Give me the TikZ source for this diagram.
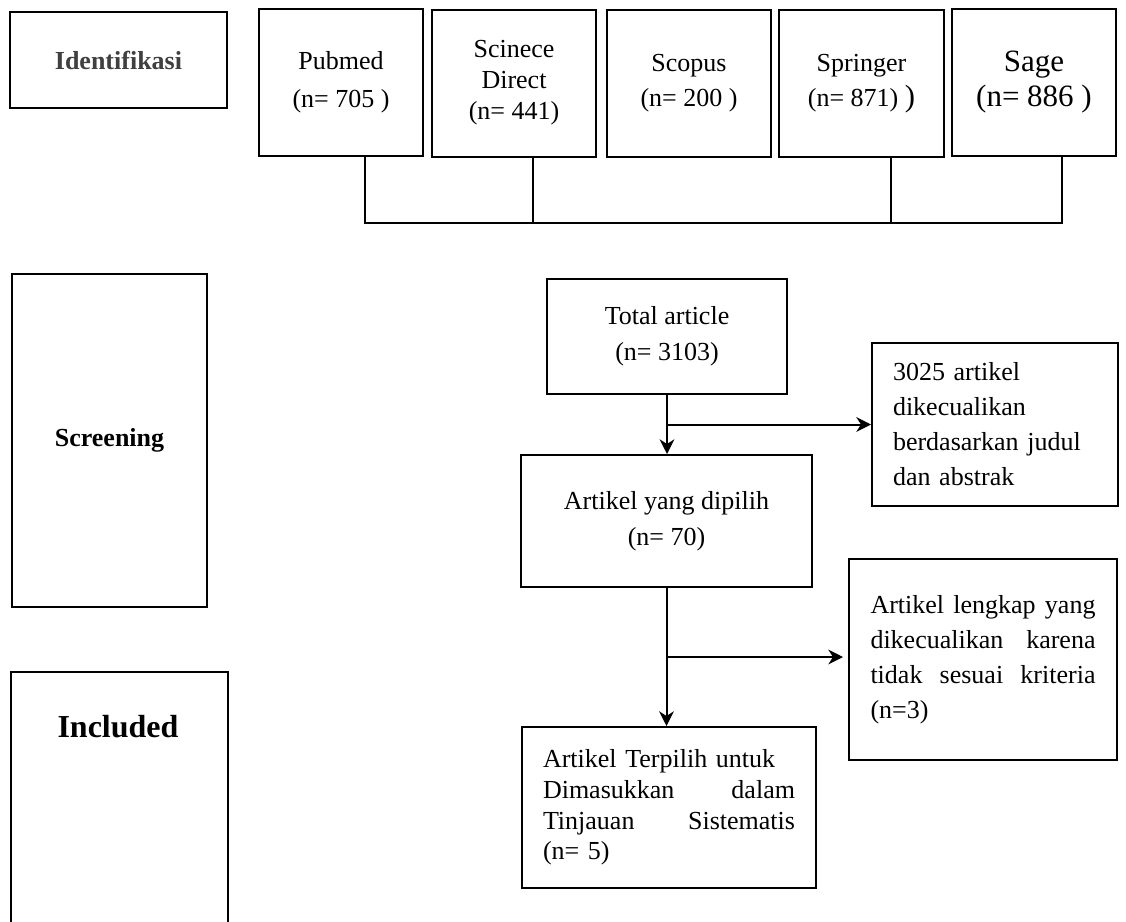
\documentclass[tikz,border=0pt]{standalone}
\usepackage{fontspec}
\setmainfont{Liberation Serif}
\usepackage{xcolor}
\usetikzlibrary{calc,arrows.meta}
\definecolor{idgray}{RGB}{64,64,64}

\begin{document}
\begin{tikzpicture}[x=0.75pt,y=0.75pt,yscale=-1,xscale=1,
    box/.style={draw,line width=1.5pt,align=center,inner sep=0pt},
    sidebox/.style={box,align=left,inner xsep=15.75pt},
    dbbox/.style={box,minimum width=123.5pt,minimum height=110.25pt},
    phase/.style={box,font=\bfseries\fontsize{19.5}{24}\selectfont},
    nfont/.style={font=\fontsize{19.5}{#1}\selectfont},
    link/.style={line width=1.1pt},
    flow/.style={line width=1.5pt,-{Stealth[length=11pt,width=11pt,inset=3.5pt]}}]
      \useasboundingbox (0,0) rectangle (1126,921);
      \clip (0,0) rectangle (1126,921);

      %Shape: Rectangle [Identifikasi]
      \node [phase,text=idgray,minimum width=162.75pt,minimum height=72pt] (ident) at (118.5,60) {Identifikasi};
      %Shape: Rectangle [databases]
      \node [dbbox,nfont=28.5] (pubmed) at (341,82) {Pubmed\\(n= 705 )};
      \node [dbbox,nfont=23.25] (scidir) at (514,83) {Scinece\\Direct\\(n= 441)};
      \node [dbbox,nfont=26.25] (scopus) at (689,83) {Scopus\\(n= 200 )};
      \node [dbbox,nfont=26.25] (springer) at (861.5,83.5) {Springer\\(n= 871) {\fontsize{23}{26}\selectfont )}};
      \node [dbbox,font=\fontsize{23.25}{26.25}\selectfont] (sage) at (1034,82.5) {Sage\\(n= 886 )};

      %Straight Lines [databases to bar]
      \coordinate (barL) at (365,223);
      \coordinate (pubmedT) at ($(pubmed.south)+(24,0)$);
      \coordinate (scidirT) at ($(scidir.south)+(19,0)$);
      \coordinate (springerT) at ($(springer.south)+(29.5,0)$);
      \coordinate (sageT) at ($(sage.south)+(28,0)$);
      \draw [link] (pubmedT) -- (pubmedT |- barL) -- (sageT |- barL) -- (sageT);
      \draw [link] (scidirT) -- (scidirT |- barL);
      \draw [link] (springerT) -- (springerT |- barL);

      %Shape: Rectangle [Screening]
      \node [phase,minimum width=146.25pt,minimum height=249.75pt] (screen) at (109.5,440.5) {Screening};
      %Shape: Rectangle [Included]
      \node [box,minimum width=162.75pt,minimum height=202.5pt,anchor=north] (incl) at (119.5,671) {};
      % Text Node
      \node [font=\bfseries\fontsize{24}{28}\selectfont] (inclT) at (118,727) {Included};

      %Shape: Rectangle [flow]
      \node [box,nfont=27,minimum width=180pt,minimum height=86.25pt] (total) at (667,336.5) {Total article\\(n= 3103)};
      \node [box,nfont=27,minimum width=218.25pt,minimum height=99pt] (pilih) at (666.5,521) {Artikel yang dipilih\\(n= 70)};
      \node [sidebox,nfont=26.25,text width=153pt,minimum width=184.5pt,minimum height=122.25pt] (excl1) at (995,424.5) {3025 artikel\\dikecualikan\\berdasarkan judul\\dan abstrak};
      \node [sidebox,nfont=26.25,text width=168.75pt,minimum width=201pt,minimum height=150.75pt] (excl2) at (983,659.5) {Artikel\hfill lengkap\hfill yang\\dikecualikan\hfill karena\\tidak\hfill sesuai\hfill kriteria\\(n=3)};
      \node [sidebox,nfont=23,text width=189pt,minimum width=220.5pt,minimum height=120.75pt] (terpilih) at (669,807.5) {Artikel Terpilih untuk\\Dimasukkan\hfill dalam\\Tinjauan\hfill Sistematis\\(n= 5)};

      %Straight Lines [arrows]
      \coordinate (br1) at ($(total.south)!0.5!(pilih.north)$);
      \coordinate (br2) at ($(pilih.south)!0.5!(terpilih.north)$);
      \draw [flow] (total.south) -- (total.south |- pilih.north);
      \draw [flow] (br1) -- (br1 -| excl1.west);
      \draw [flow] (pilih.south) -- (pilih.south |- terpilih.north);
      \draw [flow] (br2) -- ($(br2 -| excl2.west)+(-5,0)$);
\end{tikzpicture}
\end{document}
